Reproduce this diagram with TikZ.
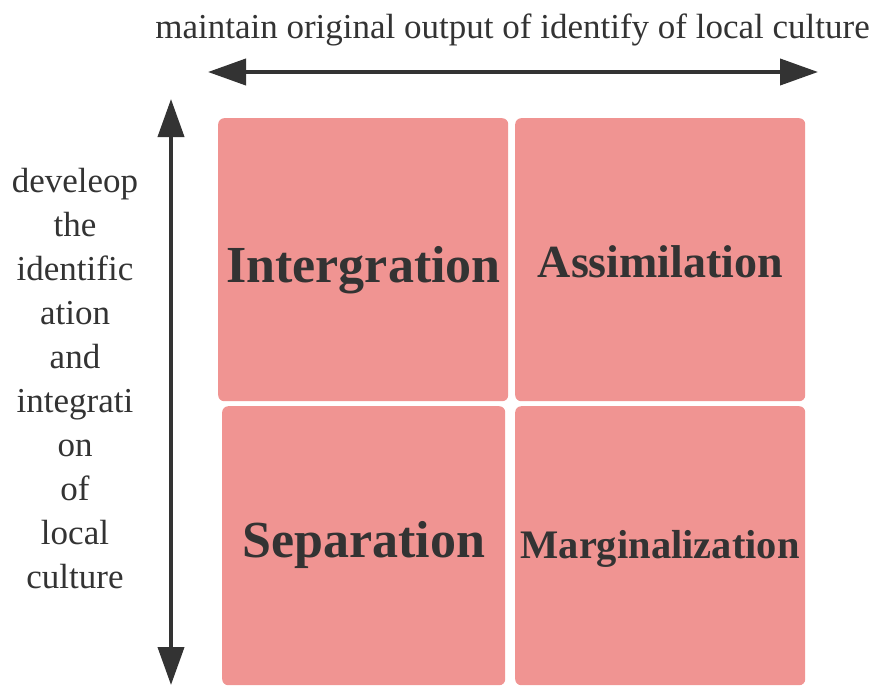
\documentclass[tikz,border=0pt]{standalone}
\usepackage{fontspec}
\setmainfont{Liberation Serif}[UprightFont=*, BoldFont=* Bold]
\newfontfamily\captionfont{Liberation Serif}
\usetikzlibrary{arrows.meta}
\definecolor{inkgray}{HTML}{333333}
\definecolor{quadpink}{RGB}{240,148,146}
\begin{document}
\begin{tikzpicture}[x=1pt,y=-1pt,
  quad/.style={draw=none, fill=quadpink, rounded corners=6pt, inner sep=0pt, anchor=north west},
  quadlabel/.style={font=\captionfont\bfseries\fontsize{#1}{#1}\selectfont, text=inkgray, inner sep=0pt, anchor=base},
  sidetext/.style={font=\captionfont\fontsize{35}{44}\selectfont, text=inkgray, inner sep=0pt, anchor=base},
  axis/.style={draw=inkgray, line width=4pt, {Triangle[length=38pt,width=26pt]}-{Triangle[length=38pt,width=26pt]}}
]
\useasboundingbox (0,0) rectangle (874,686);

% four quadrants
\node[quad, minimum width=290pt, minimum height=283pt] (q1) at (218,118) {};
\node[quad, minimum width=290pt, minimum height=283pt] (q2) at (515,118) {};
\node[quad, minimum width=283pt, minimum height=279pt] (q3) at (222,406) {};
\node[quad, minimum width=290pt, minimum height=279pt] (q4) at (515,406) {};

\node[quadlabel=52] (t1) at (363.5,282) {Intergration};
\node[quadlabel=46] (t2) at (660.5,277) {Assimilation};
\node[quadlabel=52] (t3) at (364,557) {Separation};
\node[quadlabel=40.5] (t4) at (660,558) {Marginalization};

% axes
\coordinate (hL) at (208,72);
\coordinate (hR) at (818,72);
\coordinate (vT) at (171,99);
\coordinate (vB) at (171,685);
\draw[axis] (hL) -- (hR);
\draw[axis] (vT) -- (vB);

% axis captions
\node[sidetext] (top) at (512.5,38) {maintain original output of identify of local culture};
\foreach \w [count=\i] in {develeop,the,identific,ation,and,integrati,on,of,local,culture}
  \node[sidetext] (side\i) at (75,148+44*\i) {\w};
\end{tikzpicture}
\end{document}
